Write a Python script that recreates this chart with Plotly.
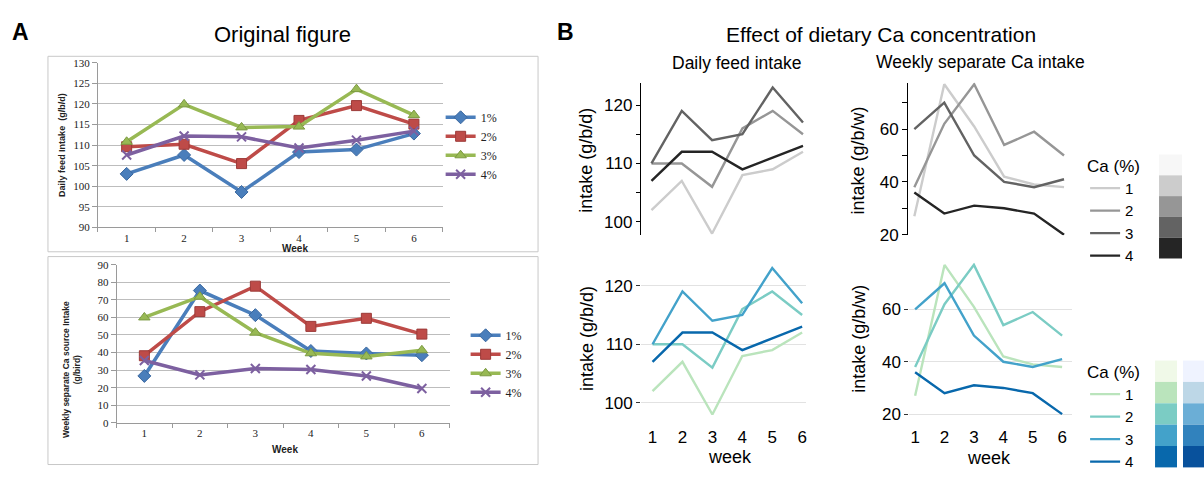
import plotly.graph_objects as go

W, H = 1204, 479
def fx(x): return x / W
def fy(y): return 1 - y / H

# ---------------- data ----------------
weeks = [1, 2, 3, 4, 5, 6]
week_labels = ["1", "2", "3", "4", "5", "6"]
a_names = ["1%", "2%", "3%", "4%"]
b_names = ["1", "2", "3", "4"]

# Panel A (original Excel figure)
a_feed_1 = [103.0, 107.6, 98.6, 108.3, 108.9, 112.8]
a_feed_2 = [109.6, 110.2, 105.5, 116.0, 119.6, 115.1]
a_feed_3 = [110.8, 119.9, 114.3, 114.5, 123.6, 117.3]
a_feed_4 = [107.6, 112.2, 112.0, 109.3, 111.2, 113.4]
a_ca_1 = [26.7, 75.3, 61.3, 40.9, 39.5, 38.5]
a_ca_2 = [38.2, 63.3, 77.8, 54.9, 59.5, 50.5]
a_ca_3 = [60.0, 71.8, 51.3, 39.6, 37.8, 41.3]
a_ca_4 = [35.5, 27.3, 30.9, 30.4, 26.7, 19.5]

# Panel B (redrawn)
b_feed_1 = [102, 107, 98, 108, 109, 112]
b_feed_2 = [110, 110, 106, 116, 119, 115]
b_feed_3 = [110, 119, 114, 115, 123, 117]
b_feed_4 = [107, 112, 112, 109, 111, 113]
b_ca_1 = [27, 77, 61, 42, 39, 38]
b_ca_2 = [38, 62, 77, 54, 59, 50]
b_ca_3 = [60, 70, 50, 40, 38, 41]
b_ca_4 = [36, 28, 31, 30, 28, 20]

a_feed = [a_feed_1, a_feed_2, a_feed_3, a_feed_4]
a_ca = [a_ca_1, a_ca_2, a_ca_3, a_ca_4]
b_feed = [b_feed_1, b_feed_2, b_feed_3, b_feed_4]
b_ca = [b_ca_1, b_ca_2, b_ca_3, b_ca_4]

# ---------------- styles ----------------
excel_colors = ["#4a7ebb", "#be4b48", "#98b954", "#7d60a0"]
excel_edges = ["#3a68a0", "#9c3a38", "#7c9a42", "#66498a"]
excel_symbols = ["diamond", "square", "triangle-up", "x-thin"]
grey_lines = ["#cccccc", "#969696", "#636363", "#252525"]
gnbu_lines = ["#bae4bc", "#7bccc4", "#43a2ca", "#0868ac"]
grey_swatch = ["#f7f7f7", "#cccccc", "#969696", "#636363", "#252525"]
gnbu_swatch = ["#f0f9e8", "#bae4bc", "#7bccc4", "#43a2ca", "#0868ac"]
blues_swatch = ["#eff3ff", "#bdd7e7", "#6baed6", "#3182bd", "#08519c"]

SANS = "Liberation Sans, Arial, sans-serif"
SERIF = "Liberation Serif, DejaVu Serif, serif"

fig = go.Figure()

def excel_marker(i):
    if excel_symbols[i] == "x-thin":
        return dict(symbol="x-thin", size=9, color=excel_colors[i],
                    line=dict(color=excel_colors[i], width=2))
    return dict(symbol=excel_symbols[i], size=10, color=excel_colors[i],
                line=dict(color=excel_edges[i], width=1))

for i in range(4):
    fig.add_trace(go.Scatter(x=week_labels, y=a_feed[i], mode="lines+markers",
                             name=a_names[i], line=dict(color=excel_colors[i], width=3.5),
                             marker=excel_marker(i), xaxis="x", yaxis="y", legend="legend"))
for i in range(4):
    fig.add_trace(go.Scatter(x=week_labels, y=a_ca[i], mode="lines+markers",
                             name=a_names[i], line=dict(color=excel_colors[i], width=3.5),
                             marker=excel_marker(i), xaxis="x2", yaxis="y2", legend="legend2"))
for i in range(4):
    fig.add_trace(go.Scatter(x=weeks, y=b_feed[i], mode="lines", name=b_names[i],
                             line=dict(color=grey_lines[i], width=2.4),
                             xaxis="x3", yaxis="y3", legend="legend3"))
for i in range(4):
    fig.add_trace(go.Scatter(x=weeks, y=b_ca[i], mode="lines", name=b_names[i],
                             line=dict(color=grey_lines[i], width=2.4), showlegend=False,
                             xaxis="x4", yaxis="y4", legend="legend3"))
for i in range(4):
    fig.add_trace(go.Scatter(x=weeks, y=b_feed[i], mode="lines", name=b_names[i],
                             line=dict(color=gnbu_lines[i], width=2.4),
                             xaxis="x5", yaxis="y5", legend="legend4"))
for i in range(4):
    fig.add_trace(go.Scatter(x=weeks, y=b_ca[i], mode="lines", name=b_names[i],
                             line=dict(color=gnbu_lines[i], width=2.4), showlegend=False,
                             xaxis="x6", yaxis="y6", legend="legend4"))

# ---------------- axes ----------------
GRID_A = "#bdbdbd"
LINE_A = "#9a9a9a"
a_x = dict(type="category", showline=True, linecolor=LINE_A, linewidth=1, ticks="outside",
           tickson="boundaries", ticklen=4, tickcolor=LINE_A, showgrid=False,
           tickfont=dict(family=SERIF, size=11, color="#222"), range=[-0.5, 5.5],
           fixedrange=True)
a_y = dict(showline=True, linecolor=LINE_A, linewidth=1, ticks="outside", ticklen=5,
           tickcolor=LINE_A, showgrid=True, gridcolor=GRID_A, gridwidth=1, zeroline=False,
           tickfont=dict(family=SERIF, size=11, color="#222"))

b_top_y = dict(showline=True, linecolor="black", linewidth=1.3, ticks="outside", ticklen=4.5,
               tickwidth=1.3, tickcolor="black", showgrid=False, zeroline=False,
               tickfont=dict(family=SANS, size=17, color="black"))
b_bot_y = dict(showline=False, ticks="outside", ticklen=4, tickwidth=1, tickcolor="#333",
               showgrid=True, gridcolor="#e2e2e2", gridwidth=1, zeroline=False,
               tickfont=dict(family=SANS, size=17, color="black"))
b_bot_x = dict(showline=False, ticks="", showgrid=False, zeroline=False, tickmode="array",
               tickvals=weeks, ticktext=week_labels, ticklabelstandoff=7,
               tickfont=dict(family=SANS, size=17, color="black"))

fig.update_layout(
    xaxis=dict(a_x, domain=[fx(98), fx(443)], anchor="y"),
    yaxis=dict(a_y, domain=[fy(231), fy(59.3)], range=[90, 130], dtick=5, anchor="x"),
    xaxis2=dict(a_x, domain=[fx(116.7), fx(450)], anchor="y2"),
    yaxis2=dict(a_y, domain=[fy(435), fy(270)], range=[0, 90], dtick=10, anchor="x2"),
    xaxis3=dict(domain=[fx(642), fx(807)], range=[0.67, 6.11], visible=False, anchor="y3"),
    yaxis3=dict(b_top_y, domain=[fy(239.3), fy(80)], range=[97.7, 123.83], tick0=100, dtick=10,
                minor=dict(ticks="outside", ticklen=4.5, tickwidth=1.3, tickcolor="black",
                           tick0=100, dtick=5, showgrid=False), anchor="x3"),
    xaxis4=dict(domain=[fx(908.5), fx(1073)], range=[0.78, 6.27], visible=False, anchor="y4"),
    yaxis4=dict(b_top_y, domain=[fy(239.3), fy(80)], range=[19.75, 77.6], tick0=0, dtick=20,
                minor=dict(ticks="outside", ticklen=4.5, tickwidth=1.3, tickcolor="black",
                           tick0=0, dtick=10, showgrid=False), anchor="x4"),
    xaxis5=dict(b_bot_x, domain=[fx(641.7), fx(806.7)], range=[0.62, 6.13], anchor="y5"),
    yaxis5=dict(b_bot_y, domain=[fy(430), fy(268)], range=[97.4, 123.9], tick0=100, dtick=10,
                anchor="x5"),
    xaxis6=dict(b_bot_x, domain=[fx(910), fx(1073)], range=[0.8, 6.34], anchor="y6"),
    yaxis6=dict(b_bot_y, domain=[fy(430), fy(268)], range=[18.5, 77.8], tick0=0, dtick=20,
                anchor="x6"),
)

# ---------------- legends ----------------
legA = dict(xanchor="left", yanchor="top", bgcolor="rgba(0,0,0,0)", borderwidth=0,
            font=dict(family=SERIF, size=12, color="#222"), tracegroupgap=0, itemwidth=30)
legB = dict(xanchor="left", yanchor="top", bgcolor="rgba(0,0,0,0)", borderwidth=0,
            font=dict(family=SANS, size=15, color="black"), tracegroupgap=0, itemwidth=30,
            title=dict(text="Ca (%)", font=dict(family=SANS, size=17, color="black")))
fig.update_layout(
    showlegend=True,
    legend=dict(legA, x=fx(441), y=fy(101)),
    legend2=dict(legA, x=fx(466), y=fy(328.5)),
    legend3=dict(legB, x=fx(1086), y=fy(150)),
    legend4=dict(legB, x=fx(1086), y=fy(365)),
)

# ---------------- annotations ----------------
def ann(text, x, y, size, family=SANS, bold=False, angle=0, color="black"):
    if bold:
        text = "<b>" + text + "</b>"
    return dict(text=text, x=fx(x), y=fy(y), xref="paper", yref="paper", showarrow=False,
                xanchor="center", yanchor="middle", textangle=angle,
                font=dict(family=family, size=size, color=color))

annotations = [
    ann("A", 21, 27, 23, bold=True),
    ann("Original figure", 283, 30, 22),
    ann("B", 566, 27, 23, bold=True),
    ann("Effect of dietary Ca concentration", 882, 30, 21),
    ann("Daily feed intake", 736.7, 59, 17.5),
    ann("Weekly separate Ca intake", 981, 58.5, 17.5),
    ann("intake (g/b/d)", 587, 161, 18, angle=-90),
    ann("intake (g/b/w)", 859, 161, 18, angle=-90),
    ann("intake (g/b/d)", 587, 347, 18, angle=-90),
    ann("intake (g/b/w)", 859, 347, 18, angle=-90),
    ann("week", 731, 471, 18),
    ann("week", 990, 471.5, 18),
    ann("Week", 295, 253, 10, bold=True, color="#222"),
    ann("Week", 285, 463, 10, bold=True, color="#222"),
    ann("Daily feed Intake  (g/b/d)", 62, 145, 9, bold=True, angle=-90, color="#222"),
    ann("Weekly separate Ca source Intake<br>(g/bird)", 71, 379, 8.5, bold=True, angle=-90,
        color="#222"),
]
fig.update_layout(annotations=annotations)

# ---------------- shapes (chart frames and palette swatches) ----------------
shapes = [
    dict(type="rect", xref="paper", yref="paper", x0=fx(48), x1=fx(538.5), y0=fy(256.5),
         y1=fy(52.5), line=dict(color="#c8c8c8", width=1), fillcolor="rgba(0,0,0,0)"),
    dict(type="rect", xref="paper", yref="paper", x0=fx(48), x1=fx(538.5), y0=fy(478.5),
         y1=fy(261.5), line=dict(color="#c8c8c8", width=1), fillcolor="rgba(0,0,0,0)"),
]
def swatches(colors, x0, x1, ytop, step):
    out = []
    for k, c in enumerate(colors):
        out.append(dict(type="rect", xref="paper", yref="paper", x0=fx(x0), x1=fx(x1),
                        y0=fy(ytop + (k + 1) * step), y1=fy(ytop + k * step),
                        line=dict(width=0), fillcolor=c, layer="below"))
    return out
shapes += swatches(grey_swatch, 1160, 1183, 155, 21.7)
shapes += swatches(gnbu_swatch, 1156, 1178, 370, 22.3)
shapes += swatches(blues_swatch, 1184, 1206, 370, 22.3)
fig.update_layout(shapes=shapes)

fig.update_layout(width=W, height=H, margin=dict(l=0, r=0, t=0, b=0),
                  paper_bgcolor="white", plot_bgcolor="rgba(0,0,0,0)",
                  font=dict(family=SANS, color="black"))

fig.write_html("out.html", config={"displayModeBar": False},
               post_script="document.body.style.margin='0';document.body.style.overflow='hidden';")
